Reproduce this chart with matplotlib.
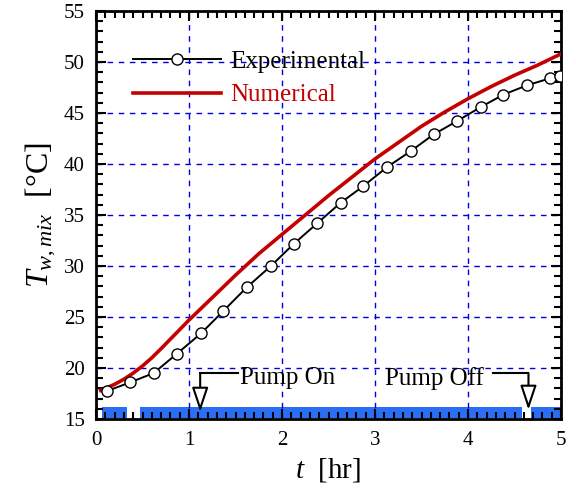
import matplotlib
matplotlib.use("Agg")
import matplotlib.pyplot as plt
from matplotlib.ticker import MultipleLocator

plt.rcParams["font.family"] = "Liberation Serif"
plt.rcParams["mathtext.fontset"] = "custom"
plt.rcParams["mathtext.rm"] = "Liberation Serif"
plt.rcParams["mathtext.it"] = "Liberation Serif:italic"

# ---------------------------------------------------------------------------
# Data
# ---------------------------------------------------------------------------
exp_t = [0.12, 0.37, 0.62, 0.87, 1.13, 1.37, 1.62, 1.88, 2.13, 2.38, 2.63,
         2.87, 3.13, 3.39, 3.63, 3.88, 4.14, 4.38, 4.63, 4.88, 4.99]
exp_T = [17.75, 18.6, 19.5, 21.4, 23.4, 25.6, 27.9, 30.0, 32.2, 34.2, 36.2,
         37.8, 39.7, 41.3, 42.9, 44.2, 45.6, 46.8, 47.7, 48.4, 48.6]

num_t = [0.05, 0.1, 0.2, 0.3, 0.4, 0.5, 0.6, 0.7, 0.85, 1.0, 1.25, 1.5,
         1.75, 2.0, 2.25, 2.5, 2.75, 3.0, 3.25, 3.5, 3.75, 4.0, 4.25, 4.5,
         4.75, 5.0]
num_T = [17.8, 18.0, 18.4, 18.9, 19.5, 20.2, 21.0, 21.9, 23.3, 24.7, 26.9,
         29.1, 31.2, 33.1, 35.0, 36.9, 38.7, 40.5, 42.1, 43.7, 45.1, 46.4,
         47.6, 48.7, 49.7, 50.8]

# pump status bar segments (start, width) in hr
bar_segments = [(0.06, 0.27), (0.47, 4.11), (4.68, 0.32)]
bar_T = (15.1, 1.1)

pump_on_t = 1.12
pump_off_t = 4.65

x_ticks = [0, 1, 2, 3, 4, 5]
y_ticks = [15, 20, 25, 30, 35, 40, 45, 50, 55]

# ---------------------------------------------------------------------------
fig = plt.figure(figsize=(5.76, 4.92), dpi=100)
ax = fig.add_axes([0.1667, 0.1484, 0.8073, 0.8292])

ax.set_xlim(0, 5)
ax.set_ylim(15, 55)
ax.set_xticks(x_ticks)
ax.set_yticks(y_ticks)
ax.xaxis.set_minor_locator(MultipleLocator(0.1))
ax.yaxis.set_minor_locator(MultipleLocator(1))
ax.tick_params(which="both", direction="in", top=True, right=True,
               labelsize=15, width=1.5)
ax.tick_params(axis="x", which="major", pad=9)
ax.tick_params(axis="y", which="major", pad=8)
ax.tick_params(which="major", length=7)
ax.tick_params(which="minor", length=5)
for s in ax.spines.values():
    s.set_linewidth(2)

ax.grid(True, which="major", color="#0000dd", linestyle=(0, (4, 4)),
        linewidth=1)

# pump status bar
ax.broken_barh(bar_segments, bar_T, facecolor="#2a6ef5", edgecolor="none",
               zorder=1)

# curves
ax.plot(num_t, num_T, color="#c40000", linewidth=2.6, label="Numerical",
        zorder=3)
ax.plot(exp_t, exp_T, color="black", linewidth=1.4, marker="o",
        markersize=8, markerfacecolor="white", markeredgecolor="black",
        markeredgewidth=1, label="Experimental", zorder=4)

# legend (experimental first)
h, l = ax.get_legend_handles_labels()
leg = ax.legend(h[::-1], l[::-1], loc="upper left",
                bbox_to_anchor=(0.053, 0.935), frameon=False, fontsize=18,
                handlelength=3.5, handletextpad=0.4, labelspacing=0.45,
                borderpad=0)
leg.get_texts()[1].set_color("#c40000")

# pump annotations
arrow_kw = dict(arrowstyle="-|>,head_length=1.5,head_width=0.5",
                fc="white", ec="black", lw=1.5, shrinkA=0, shrinkB=0)
ax.plot([1.53, pump_on_t], [19.5, 19.5], color="black", lw=1.5, zorder=5)
ax.annotate("", xy=(pump_on_t, 15.7), xytext=(pump_on_t, 19.5),
            arrowprops=arrow_kw, zorder=5)
ax.text(1.55, 19.0, "Pump On", fontsize=18, ha="left", va="center",
        zorder=6)

ax.plot([4.27, pump_off_t], [19.5, 19.5], color="black", lw=1.5, zorder=5)
ax.annotate("", xy=(pump_off_t, 15.9), xytext=(pump_off_t, 19.5),
            arrowprops=arrow_kw, zorder=5)
ax.text(4.17, 19.0, "Pump Off", fontsize=18, ha="right", va="center",
        zorder=6)

ax.set_xlabel(r"$t$  [hr]", fontsize=21, labelpad=4)
ax.set_ylabel(r"$T_{w,mix}$  [°C]", fontsize=23, labelpad=4)

fig.savefig("out.png", dpi=100)
